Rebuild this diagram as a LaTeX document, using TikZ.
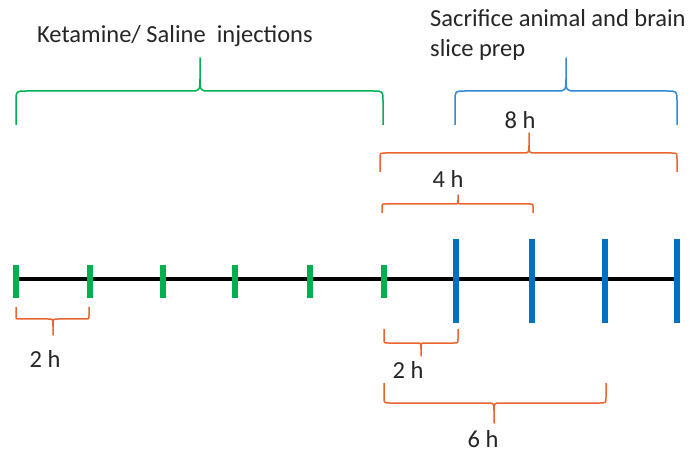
\documentclass[tikz,border=0pt]{standalone}
\usepackage{fontspec}
\setmainfont{Carlito}
\definecolor{injgreen}{RGB}{0,176,80}
\definecolor{tickblue}{RGB}{0,112,192}
\definecolor{braceblue}{RGB}{52,136,214}
\definecolor{braceorange}{RGB}{234,100,48}
\definecolor{axis}{RGB}{0,0,0}
% curly brace: colour, x1, x2, xmid, y of ends, y of bar, y of tip
\newcommand\timebrace[7]{%
  \pgfmathsetmacro\ra{0.3*abs(#5-#6)}%
  \pgfmathsetmacro\ya{#6+0.3*(#5-#6)}%
  \pgfmathsetmacro\rb{0.3*abs(#7-#6)}%
  \pgfmathsetmacro\yb{#6+0.45*(#7-#6)}%
  \draw[bracestyle,#1] (#2,#5) -- (#2,\ya) .. controls (#2,#6) .. (#2+\ra,#6)
    -- (#4-\rb,#6) .. controls (#4,#6) .. (#4,\yb) -- (#4,#7)
    -- (#4,\yb) .. controls (#4,#6) .. (#4+\rb,#6)
    -- (#3-\ra,#6) .. controls (#3,#6) .. (#3,\ya) -- (#3,#5);%
}
\begin{document}
\begin{tikzpicture}[x=1pt,y=-1pt,
  bracestyle/.style={line width=1.5pt,line join=round},
  lbl/.style={inner sep=0pt,font=\fontsize{24.5}{29}\selectfont,text=black!85},
  greentick/.style={line width=6.5pt,injgreen},
  bluetick/.style={line width=6.5pt,tickblue}]
\useasboundingbox (0,0) rectangle (696,454);
\fill[white] (0,0) rectangle (696,454);

% time axis
\coordinate (axL) at (14,279);
\coordinate (axR) at (679,279);
\draw[line width=3.6pt,axis] (axL) -- (axR);

% injection ticks every 2 h
\foreach \x in {16,90,163,235,310,384}
  \draw[greentick] (\x,265) -- (\x,298);
% sacrifice ticks
\foreach \x in {456,532,605,677}
  \draw[bluetick] (\x,239) -- (\x,323);

% braces above the axis
\timebrace{injgreen}{16}{383}{200}{125}{91}{58}
\timebrace{braceblue}{455}{677}{566}{125}{91}{58}
\timebrace{braceorange}{380}{677}{529}{172}{153}{133}
\timebrace{braceorange}{382}{533}{458}{213}{204}{195}
% braces below the axis
\timebrace{braceorange}{16}{89}{53}{307}{319}{335}
\timebrace{braceorange}{384}{458}{421}{329}{343}{356}
\timebrace{braceorange}{384}{606}{494}{383}{403}{423}

% labels
\node[lbl,anchor=base west] (ket) at (37,43) {Ketamine/ Saline\ \ injections};
\node[lbl,anchor=base west] (sacA) at (430,27) {Sacrifice animal and brain};
\node[lbl,anchor=base west] (sacB) at (430,57) {slice prep};
\node[lbl,anchor=base] (h8) at (520,129) {8 h};
\node[lbl,anchor=base] (h4) at (448,188) {4 h};
\node[lbl,anchor=base] (h2a) at (45,367) {2 h};
\node[lbl,anchor=base] (h2b) at (408,378) {2 h};
\node[lbl,anchor=base] (h6) at (483,447) {6 h};
\end{tikzpicture}
\end{document}
